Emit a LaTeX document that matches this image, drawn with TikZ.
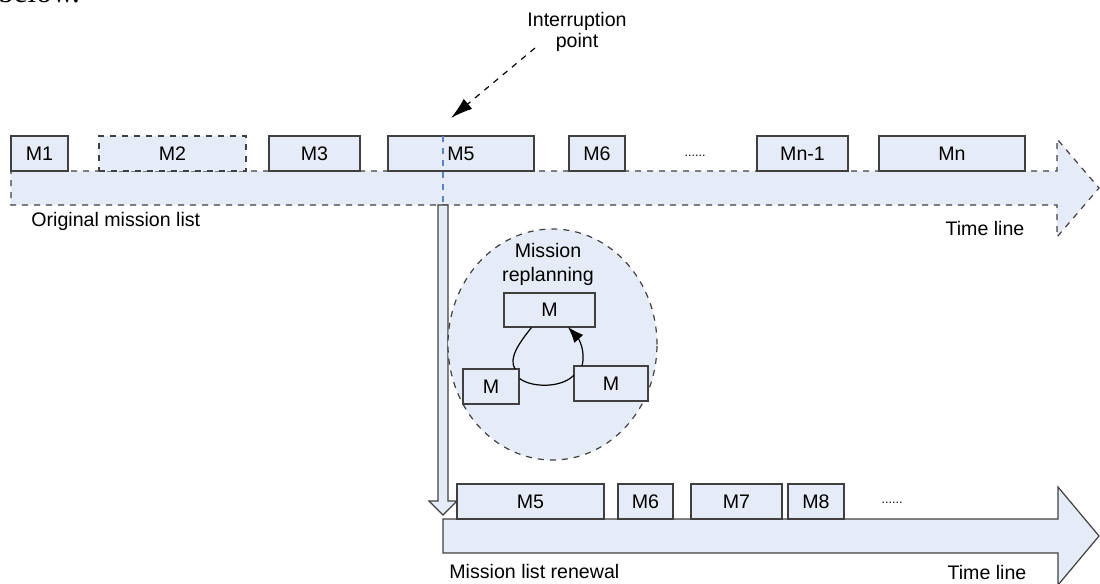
\documentclass[tikz,border=0pt]{standalone}
\usepackage{fontspec}
\setmainfont{Liberation Sans}
\newfontfamily\serifface{Liberation Serif}
\usetikzlibrary{arrows.meta,shapes.geometric,fit}
\definecolor{paleblue}{RGB}{230,236,247}
\definecolor{edgegray}{RGB}{64,64,64}
\definecolor{cutblue}{RGB}{90,130,200}
\tikzset{
  mbox/.style={draw=edgegray, line width=0.6pt, fill=paleblue, inner sep=0pt,
    label={[inner sep=0pt, font=\fontsize{9.8}{11}\selectfont]center:#1}},
  dashbox/.style={mbox=#1, dashed},
  band/.style={draw=edgegray, line width=0.6pt, fill=paleblue},
  lbl/.style={inner sep=0pt, font=\fontsize{9.8}{11}\selectfont},
  dots/.style={inner sep=0pt, font=\fontsize{6.3}{7}\selectfont},
  link/.style={draw=black, line width=0.6pt}
}
\begin{document}
\begin{tikzpicture}[x=0.5pt,y=-0.5pt]
\useasboundingbox (0,0) rectangle (1100,584);

% fragment of the running text above the figure
\node[anchor=base west, inner sep=0pt, font=\serifface\fontsize{15.5}{16}\selectfont] (intro) at (-2,2) {below.};

% original time line (dashed outline)
\path[band, dashed] (11,171) -- (1057,171) -- (1057,139) -- (1099,188) -- (1057,237)
  -- (1057,205) -- (11,205) -- cycle;

% original missions
\node[mbox=M1, fit={(11,136) (68,171)}] (m1) {};
\node[dashbox=M2, fit={(99,136) (246,171)}] (m2) {};
\node[mbox=M3, fit={(269,136) (360,171)}] (m3) {};
\node[mbox=M5, fit={(388,136) (534,171)}] (m5) {};
\node[mbox=M6, fit={(569,136) (625,171)}] (m6) {};
\node[dots] (odots) at (695,156) {......};
\node[mbox=Mn-1, fit={(757,136) (848,171)}] (mn1) {};
\node[mbox=Mn, fit={(879,136) (1025,171)}] (mn) {};

% interruption marker
\coordinate (cuttop) at (443,136);
\coordinate (cutbot) at (443,205);
\draw[cutblue, dashed, line width=0.6pt] (cuttop) -- (cutbot);

\node[lbl, align=center, font=\fontsize{9.8}{10.5}\selectfont] (interrupt) at (577,32) {Interruption\\point};
\coordinate (hit) at (451,118);
\draw[link, dashed, -{Latex[length=11pt,width=6.5pt]}] (535,48) -- (hit);

\node[lbl, anchor=west] (origlbl) at (31,221) {Original mission list};
\node[lbl] (time1) at (985,228) {Time line};

% hand-over arrow down to the renewed list
\path[band] (438,205) -- (448,205) -- (448,501) -- (457,501) -- (443,515)
  -- (429,501) -- (438,501) -- cycle;

% replanning area
\node[draw=edgegray, dashed, fill=paleblue, line width=0.6pt, ellipse,
  minimum width=104.5pt, minimum height=115.5pt, inner sep=0pt] (replan) at (552.5,344.5) {};
\node[lbl, align=center, font=\fontsize{9.8}{12}\selectfont] (replanlbl) at (548,264) {Mission\\replanning};
\node[mbox=M, fit={(504,293) (595,327)}] (ma) {};
\node[mbox=M, fit={(463,369) (519,404)}] (mb) {};
\node[mbox=M, fit={(574,366) (648,401)}] (mc) {};

\draw[link] (ma.south west) ++(28,0) coordinate (a1)
  .. controls (520,342) and (508,358) .. (515,369) coordinate (b1);
\draw[link] (mb.east) ++(0,-8) coordinate (b2)
  .. controls (532,388) and (562,388) .. (574,375) coordinate (c1);
\draw[link, -{Latex[length=8pt,width=6pt]}] (582,366) coordinate (c2)
  .. controls (586,350) and (578,338) .. (568,327) coordinate (a2);

% renewed time line
\path[band] (443,519) -- (1058,519) -- (1058,487) -- (1099,536) -- (1058,585)
  -- (1058,553) -- (443,553) -- cycle;

\node[mbox=M5, fit={(457,484) (604,519)}] (r5) {};
\node[mbox=M6, fit={(618,484) (673,519)}] (r6) {};
\node[mbox=M7, fit={(691,484) (782,519)}] (r7) {};
\node[mbox=M8, fit={(788,484) (844,519)}] (r8) {};
\node[dots] (rdots) at (892,503) {......};

\node[lbl, anchor=west] (renewlbl) at (449,571) {Mission list renewal};
\node[lbl] (time2) at (987,572) {Time line};
\end{tikzpicture}
\end{document}
